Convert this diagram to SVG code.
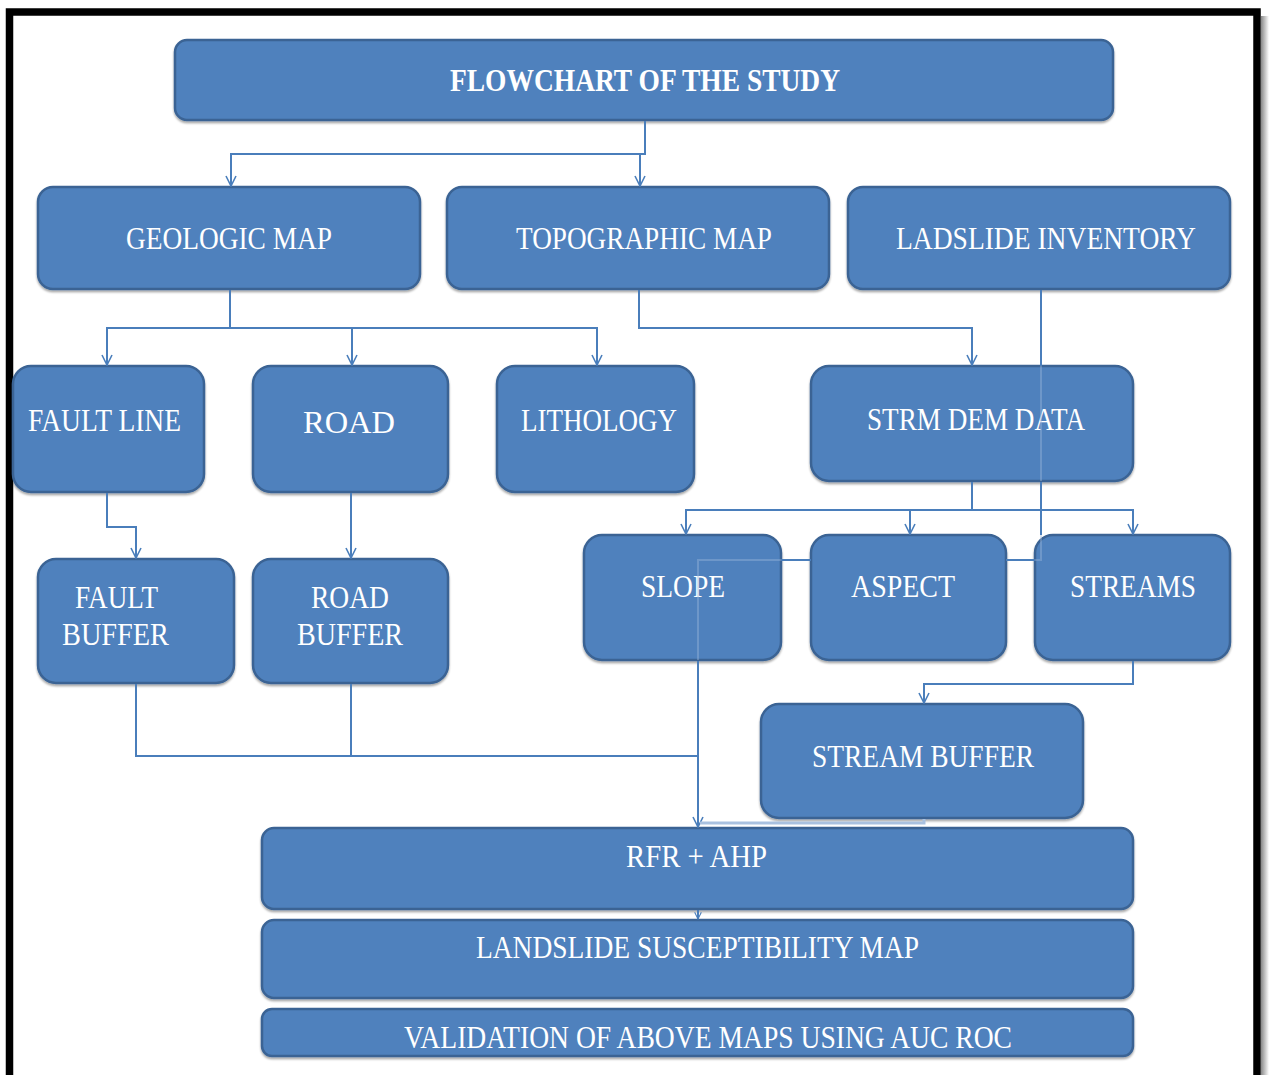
<svg xmlns="http://www.w3.org/2000/svg" width="1269" height="1075" viewBox="0 0 1269 1075">
<defs>
<style>
.box{fill:#4F81BD;stroke:#3A6394;stroke-width:2.5;filter:url(#sh)}
.t{fill:#FFFFFF;font-family:"Liberation Serif","Times New Roman",serif;font-size:32px;text-anchor:middle}
.tb{font-weight:bold}
.c{fill:none;stroke:#4A7EBB;stroke-width:2}
.f{fill:none;stroke:#9DB8DC;stroke-width:2;opacity:0.4}
</style>
<filter id="sh" x="-5%" y="-5%" width="110%" height="120%">
<feDropShadow dx="0" dy="2" stdDeviation="1.2" flood-color="#000" flood-opacity="0.35"/>
</filter>
<linearGradient id="rs" x1="0" y1="0" x2="1" y2="0">
<stop offset="0" stop-color="#888"/>
<stop offset="1" stop-color="#fff"/>
</linearGradient>
<marker id="ah" viewBox="0 0 12 12" refX="11" refY="6" markerWidth="12" markerHeight="12" markerUnits="userSpaceOnUse" orient="auto">
<path d="M1,1 L11,6 L1,11" fill="none" stroke="#4A7EBB" stroke-width="1.6"/>
</marker>
<marker id="ahs" viewBox="0 0 12 12" refX="11" refY="6" markerWidth="8" markerHeight="8" markerUnits="userSpaceOnUse" orient="auto">
<path d="M1,1 L11,6 L1,11" fill="none" stroke="#4A7EBB" stroke-width="1.6"/>
</marker>
</defs>
<rect x="0" y="0" width="1269" height="1075" fill="#FFFFFF"/>
<rect x="1261" y="16" width="8" height="1059" fill="url(#rs)"/>
<rect x="9.5" y="12" width="1247.5" height="1100" fill="#FFFFFF" stroke="#000000" stroke-width="7.5"/>

<g id="n-title"><rect class="box" x="175" y="40" width="938" height="80" rx="12"/><text class="t tb" x="645" y="91" textLength="390" lengthAdjust="spacingAndGlyphs">FLOWCHART OF THE STUDY</text></g>
<g id="n-geologic"><rect class="box" x="38" y="187" width="382" height="102" rx="15"/><text class="t" x="229" y="249" textLength="206" lengthAdjust="spacingAndGlyphs">GEOLOGIC MAP</text></g>
<g id="n-topographic"><rect class="box" x="447" y="187" width="382" height="102" rx="15"/><text class="t" x="644" y="249" textLength="256" lengthAdjust="spacingAndGlyphs">TOPOGRAPHIC MAP</text></g>
<g id="n-inventory"><rect class="box" x="848" y="187" width="382" height="102" rx="15"/><text class="t" x="1046" y="249" textLength="300" lengthAdjust="spacingAndGlyphs">LADSLIDE INVENTORY</text></g>
<g id="n-faultline"><rect class="box" x="13" y="366" width="191" height="126" rx="18"/><text class="t" x="104.5" y="431" textLength="153" lengthAdjust="spacingAndGlyphs">FAULT LINE</text></g>
<g id="n-road"><rect class="box" x="253" y="366" width="195" height="126" rx="18"/><text class="t" x="349" y="433" font-size="37" textLength="92" lengthAdjust="spacingAndGlyphs">ROAD</text></g>
<g id="n-lithology"><rect class="box" x="497" y="366" width="197" height="126" rx="18"/><text class="t" x="599" y="431" textLength="156" lengthAdjust="spacingAndGlyphs">LITHOLOGY</text></g>
<g id="n-strm"><rect class="box" x="811" y="366" width="322" height="115" rx="18"/><text class="t" x="976" y="430" textLength="218" lengthAdjust="spacingAndGlyphs">STRM DEM DATA</text></g>
<g id="n-faultbuffer"><rect class="box" x="38" y="559" width="196" height="124" rx="18"/><text class="t" x="116.5" y="608" textLength="83" lengthAdjust="spacingAndGlyphs">FAULT</text><text class="t" x="115.5" y="645" textLength="107" lengthAdjust="spacingAndGlyphs">BUFFER</text></g>
<g id="n-roadbuffer"><rect class="box" x="253" y="559" width="195" height="124" rx="18"/><text class="t" x="350" y="608" textLength="78" lengthAdjust="spacingAndGlyphs">ROAD</text><text class="t" x="350" y="645" textLength="106" lengthAdjust="spacingAndGlyphs">BUFFER</text></g>
<g id="n-slope"><rect class="box" x="584" y="535" width="197" height="125" rx="18"/><text class="t" x="683" y="597" textLength="84" lengthAdjust="spacingAndGlyphs">SLOPE</text></g>
<g id="n-aspect"><rect class="box" x="811" y="535" width="195" height="125" rx="18"/><text class="t" x="903" y="597" textLength="104" lengthAdjust="spacingAndGlyphs">ASPECT</text></g>
<g id="n-streams"><rect class="box" x="1035" y="535" width="195" height="125" rx="18"/><text class="t" x="1133" y="597" textLength="126" lengthAdjust="spacingAndGlyphs">STREAMS</text></g>
<g id="n-streambuffer"><rect class="box" x="761" y="704" width="322" height="114" rx="18"/><text class="t" x="923" y="767" textLength="222" lengthAdjust="spacingAndGlyphs">STREAM BUFFER</text></g>
<g id="n-rfr"><rect class="box" x="262" y="828" width="871" height="81" rx="12"/><text class="t" x="696.5" y="867" textLength="141" lengthAdjust="spacingAndGlyphs">RFR +  AHP</text></g>
<g id="n-lsm"><rect class="box" x="262" y="920" width="871" height="78" rx="12"/><text class="t" x="697.5" y="958" textLength="443" lengthAdjust="spacingAndGlyphs">LANDSLIDE SUSCEPTIBILITY MAP</text></g>
<g id="n-validation"><rect class="box" x="262" y="1009" width="871" height="47" rx="10"/><text class="t" x="708" y="1048" textLength="608" lengthAdjust="spacingAndGlyphs">VALIDATION OF ABOVE MAPS USING AUC ROC</text></g>

<g id="connectors">
<path class="c" d="M645 121 V154 H231 V186" marker-end="url(#ah)"/>
<path class="c" d="M640 154 V186" marker-end="url(#ah)"/>
<path class="c" d="M230 290 V328 H107 V365" marker-end="url(#ah)"/>
<path class="c" d="M352 328 V365" marker-end="url(#ah)"/>
<path class="c" d="M230 328 H597 V365" marker-end="url(#ah)"/>
<path class="c" d="M639 290 V328 H972 V365" marker-end="url(#ah)"/>
<path class="c" d="M972 482 V510 H686 V534" marker-end="url(#ah)"/>
<path class="c" d="M910 510 V534" marker-end="url(#ah)"/>
<path class="c" d="M972 510 H1133 V534" marker-end="url(#ah)"/>
<path class="c" d="M107 493 V527 H136 V558" marker-end="url(#ah)"/>
<path class="c" d="M351 493 V558" marker-end="url(#ah)"/>
<path class="c" d="M136 684 V756 H698"/>
<path class="c" d="M351 684 V756"/>
<path class="c" d="M698 661 V827" marker-end="url(#ah)"/>
<path class="c" d="M1041 290 V366"/>
<path class="f" d="M1041 366 V481"/>
<path class="c" d="M1041 482 V535"/>
<path class="f" d="M1041 535 V560 H1035"/>
<path class="c" d="M1035 560 H1006"/>
<path class="c" d="M811 560 H781"/>
<path class="f" d="M781 560 H698 V660"/>
<path class="c" d="M1133 661 V684 H924 V703" marker-end="url(#ah)"/>
<path d="M924 819 V823 H700" fill="none" stroke="#A9C1E0" stroke-width="3"/>
<path class="c" d="M698 910 V919" marker-end="url(#ahs)"/>
</g>
</svg>
